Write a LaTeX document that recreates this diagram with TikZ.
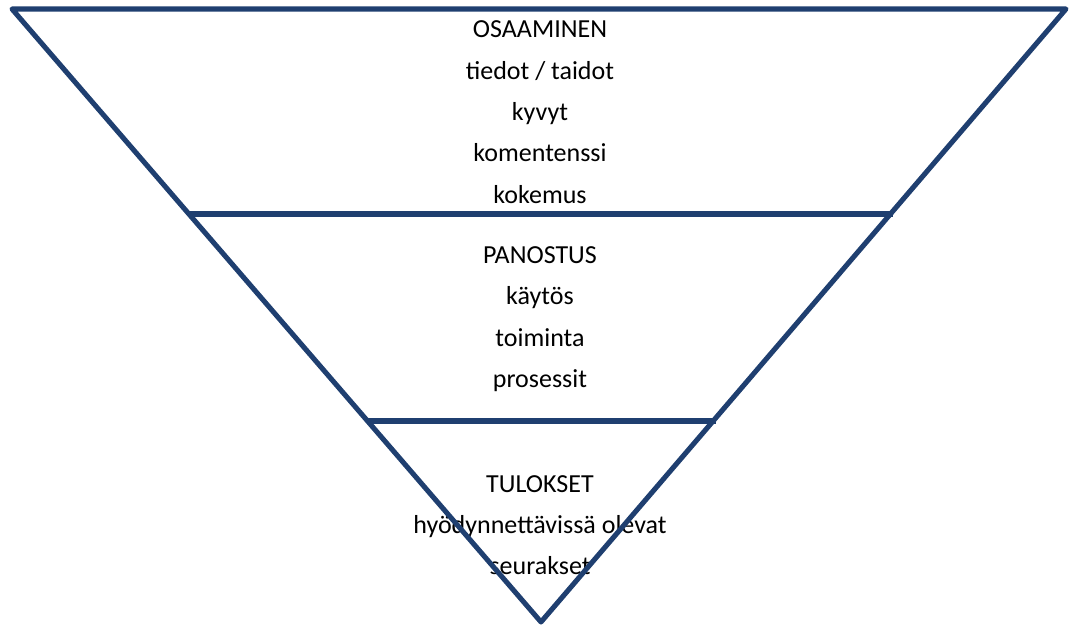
\documentclass[tikz,border=0pt]{standalone}
\usepackage{fontspec}
\setmainfont{Carlito}
\usepackage{tikz}
\usetikzlibrary{calc}
\definecolor{linjasini}{RGB}{31,63,112}
\tikzset{reuna/.style={draw=linjasini,line width=3.8pt,line join=round},
         teksti/.style={align=center,font=\fontsize{19.5}{31}\selectfont}}

\begin{document}
\begin{tikzpicture}[x=0.75pt,y=-0.75pt]
            \useasboundingbox (0,0) rectangle (1074,628);
            \node[teksti] (osaaminen) at (540,112)
                 {OSAAMINEN\\tiedot / taidot\\kyvyt\\komentenssi\\kokemus};
            \node[teksti] (panostus) at (540,319)
                 {PANOSTUS\\käytös\\toiminta\\prosessit};
            \node[teksti] (tulokset) at (540,525)
                 {TULOKSET\\hyödynnettävissä olevat\\seurakset};
            \coordinate (vy) at (12,9);
            \coordinate (oy) at (1066,9);
            \coordinate (karki) at (541,622);
            \coordinate (v1) at (189,214);
            \coordinate (o1) at (893,214);
            \coordinate (v2) at (367,421);
            \coordinate (o2) at (716,421);
            \draw[reuna] (vy) -- (oy) -- (karki) -- cycle;
            \draw[reuna] (v1) -- (o1) (v2) -- (o2);
          \end{tikzpicture}
\end{document}
